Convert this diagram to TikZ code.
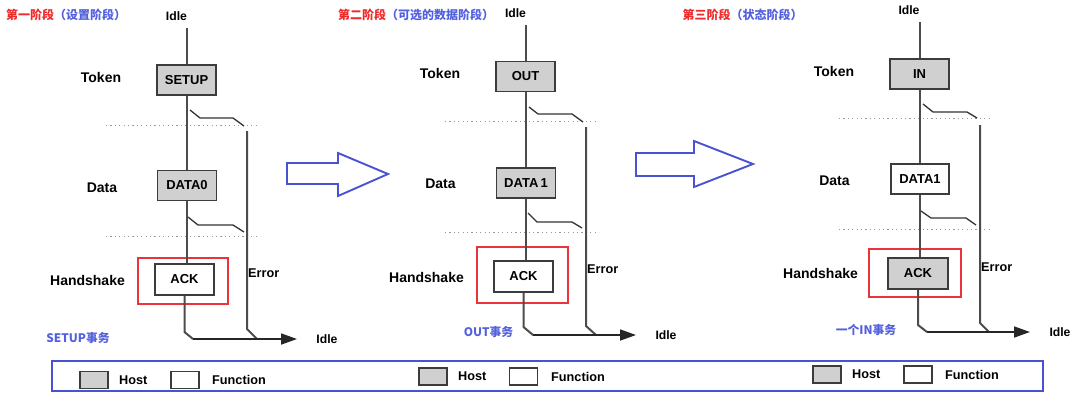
\documentclass[tikz,border=0pt]{standalone}
\usepackage{fontspec}
\setmainfont{Liberation Sans}
\newfontfamily\cjk{Noto Sans CJK SC}
\usetikzlibrary{arrows.meta}
\definecolor{hostgray}{HTML}{D0D0D0}
\definecolor{boxc}{HTML}{3C3C3C}
\definecolor{wirec}{HTML}{4C4C4C}
\definecolor{ttlred}{HTML}{EE2A2A}
\definecolor{ttlblue}{HTML}{5360DD}
\definecolor{legblue}{HTML}{4A52D4}
\definecolor{hlred}{HTML}{E8343A}
\tikzset{
  pbox/.style={draw=boxc, line width=1.8pt, minimum width=59pt, minimum height=30pt, inner sep=0pt,
    font=\bfseries\fontsize{13}{15}\selectfont},
  hostbox/.style={pbox, fill=hostgray},
  funcbox/.style={pbox, fill=white},
  rowlbl/.style={font=\bfseries\fontsize{14}{16}\selectfont, inner sep=0pt},
  idlelbl/.style={font=\bfseries\fontsize{12.2}{14}\selectfont, inner sep=0pt},
  errlbl/.style={font=\bfseries\fontsize{12.7}{14}\selectfont, inner sep=0pt, anchor=west},
  wire/.style={draw=wirec, line width=2pt},
  swline/.style={draw=black!80, line width=1.3pt},
  sepline/.style={draw=gray!80, line width=1pt, dash pattern=on 1.2pt off 3.2pt},
  hlbox/.style={draw=hlred, line width=1.2pt},
  outarrow/.style={draw=black!85, line width=1.7pt, -{Triangle[length=16pt,width=11pt]}},
  bigarrow/.style={draw=legblue, line width=1.9pt, fill=white},
  titlelbl/.style={font=\cjk\bfseries\fontsize{12}{14}\selectfont, inner sep=0pt},
  txlbl/.style={font=\cjk\bfseries\fontsize{11.8}{13}\selectfont, text=ttlblue, inner sep=0pt},
  legkey/.style={draw=boxc, line width=1.5pt, minimum width=28pt, minimum height=17pt, inner sep=0pt},
  legtxt/.style={font=\bfseries\fontsize{12.7}{14}\selectfont, inner sep=0pt, anchor=west},
}
\begin{document}
\begin{tikzpicture}[x=1pt,y=-1pt]
\useasboundingbox (0,0) rectangle (1075,400);

% ================= Diagram 1 =================
\node[titlelbl] (ttl1) at (66,15) {\textcolor{ttlred}{第一阶段}\textcolor{ttlblue}{（设置阶段）}};
\node[idlelbl] (idA1) at (176.5,16) {Idle};
\coordinate (top1) at (186.5,28);
\node[rowlbl] (tok1) at (101,77) {Token};
\node[rowlbl] (dat1) at (102,188) {Data};
\node[rowlbl] (hs1) at (87.5,280) {Handshake};
\node[hostbox] (setup) at (186.5,80) {SETUP};
\node[hostbox] (data0) at (187,185.5) {DATA0};
\node[funcbox, minimum height=31pt] (ack1) at (184.5,279.5) {ACK};
\draw[hlbox] (138,258) rectangle (228,304);
\draw[sepline] (106,125) -- (260,125);
\draw[sepline] (106,236) -- (260,236);
\draw[wire] (top1) -- (setup.north);
\draw[wire] (setup.south) -- (setup.south |- data0.north);
\draw[wire] (setup.south |- data0.south) -- (setup.south |- ack1.north);
% switches
\coordinate (a1) at (190,110); \coordinate (b1) at (200,118);
\coordinate (c1) at (233,118); \coordinate (d1) at (244,126);
\draw[swline] (a1) -- (b1) -- (c1) -- (d1);
\coordinate (a2) at (188,217); \coordinate (b2) at (198,225);
\coordinate (c2) at (233,225); \coordinate (d2) at (244,232);
\draw[swline] (a2) -- (b2) -- (c2) -- (d2);
% error path
\coordinate (et1) at (247,131); \coordinate (eb1) at (247,329); \coordinate (ee1) at (257,339);
\draw[wire] (et1) -- (eb1) -- (ee1);
\node[errlbl] (err1) at (248,273) {Error};
% exit
\coordinate (x1) at (ack1.south); \coordinate (xb1) at (184.5,332); \coordinate (xc1) at (193,339);
\coordinate (xe1) at (297,339);
\draw[wire] (x1) -- (xb1) -- (xc1);
\draw[outarrow] (xc1) -- (xe1);
\node[idlelbl] (idB1) at (327,339) {Idle};
\node[txlbl] (tx1) at (78,338) {SETUP事务};

% big arrow 1
\draw[bigarrow] (287,163) -- (338,163) -- (338,153) -- (388,174) -- (338,196) -- (338,184) -- (287,184) -- cycle;

% ================= Diagram 2 =================
\node[titlelbl] (ttl2) at (416,15) {\textcolor{ttlred}{第二阶段}\textcolor{ttlblue}{（可选的数据阶段）}};
\node[idlelbl] (idA2) at (515.5,13) {Idle};
\coordinate (top2) at (525.5,25);
\node[rowlbl] (tok2) at (440,73) {Token};
\node[rowlbl] (dat2) at (440.5,184) {Data};
\node[rowlbl] (hs2) at (426.5,277) {Handshake};
\node[hostbox] (out) at (525.5,76.5) {OUT};
\node[hostbox] (data1a) at (526,183) {DATA\,1};
\node[funcbox, minimum height=31pt] (ack2) at (523.5,276.5) {ACK};
\draw[hlbox] (477,247) rectangle (568,303);
\draw[sepline] (445,121) -- (599,121);
\draw[sepline] (445,232) -- (599,232);
\draw[wire] (top2) -- (out.north);
\draw[wire] (out.south) -- (out.south |- data1a.north);
\draw[wire] (out.south |- data1a.south) -- (out.south |- ack2.north);
\coordinate (a3) at (529,107); \coordinate (b3) at (538,114);
\coordinate (c3) at (572,114); \coordinate (d3) at (583,122);
\draw[swline] (a3) -- (b3) -- (c3) -- (d3);
\coordinate (a4) at (528,213); \coordinate (b4) at (537,222);
\coordinate (c4) at (572,222); \coordinate (d4) at (582,228);
\draw[swline] (a4) -- (b4) -- (c4) -- (d4);
\coordinate (et2) at (586,127); \coordinate (eb2) at (586,326); \coordinate (ee2) at (596,335);
\draw[wire] (et2) -- (eb2) -- (ee2);
\node[errlbl] (err2) at (587,269) {Error};
\coordinate (x2) at (ack2.south); \coordinate (xb2) at (523.5,327); \coordinate (xc2) at (533,335);
\coordinate (xe2) at (636,335);
\draw[wire] (x2) -- (xb2) -- (xc2);
\draw[outarrow] (xc2) -- (xe2);
\node[idlelbl] (idB2) at (666,335) {Idle};
\node[txlbl] (tx2) at (488.5,332) {OUT事务};

% big arrow 2
\draw[bigarrow] (636,153) -- (694,153) -- (694,141) -- (753,164) -- (694,187) -- (694,176) -- (636,176) -- cycle;

% ================= Diagram 3 =================
\node[titlelbl] (ttl3) at (742.5,15) {\textcolor{ttlred}{第三阶段}\textcolor{ttlblue}{（状态阶段）}};
\node[idlelbl] (idA3) at (909,10) {Idle};
\coordinate (top3) at (919.5,22);
\node[rowlbl] (tok3) at (834,71) {Token};
\node[rowlbl] (dat3) at (834.5,181) {Data};
\node[rowlbl] (hs3) at (820.5,273) {Handshake};
\node[hostbox] (inb) at (919.5,74) {IN};
\node[funcbox, minimum width=58pt] (data1b) at (920,179) {DATA1};
\node[hostbox, minimum width=60pt, minimum height=31pt] (ack3) at (918,273.5) {ACK};
\draw[hlbox] (869,249) rectangle (961,297);
\draw[sepline] (839,118) -- (993,118);
\draw[sepline] (839,229) -- (993,229);
\draw[wire] (top3) -- (inb.north);
\draw[wire] (inb.south) -- (inb.south |- data1b.north);
\draw[wire] (inb.south |- data1b.south) -- (inb.south |- ack3.north);
\coordinate (a5) at (923,104); \coordinate (b5) at (933,112);
\coordinate (c5) at (967,112); \coordinate (d5) at (977,118);
\draw[swline] (a5) -- (b5) -- (c5) -- (d5);
\coordinate (a6) at (921,211); \coordinate (b6) at (931,218);
\coordinate (c6) at (966,218); \coordinate (d6) at (976,225);
\draw[swline] (a6) -- (b6) -- (c6) -- (d6);
\coordinate (et3) at (980,125); \coordinate (eb3) at (980,323); \coordinate (ee3) at (989,332);
\draw[wire] (et3) -- (eb3) -- (ee3);
\node[errlbl] (err3) at (981,267) {Error};
\coordinate (x3) at (ack3.south); \coordinate (xb3) at (918,325); \coordinate (xc3) at (927,332);
\coordinate (xe3) at (1030,332);
\draw[wire] (x3) -- (xb3) -- (xc3);
\draw[outarrow] (xc3) -- (xe3);
\node[idlelbl] (idB3) at (1060,332) {Idle};
\node[txlbl] (tx3) at (866,330) {一个IN事务};

% ================= Legend =================
\draw[draw=legblue, line width=1.5pt] (52,361) rectangle (1043,391);
\node[legkey, fill=hostgray] (lh1) at (94,380) {};
\node[legtxt] (lht1) at (119,380) {Host};
\node[legkey, fill=white] (lf1) at (185,380) {};
\node[legtxt] (lft1) at (212,380) {Function};
\node[legkey, fill=hostgray] (lh2) at (433,376.5) {};
\node[legtxt] (lht2) at (458,376.5) {Host};
\node[legkey, fill=white] (lf2) at (523.5,376.5) {};
\node[legtxt] (lft2) at (551,376.5) {Function};
\node[legkey, fill=hostgray] (lh3) at (827,374.5) {};
\node[legtxt] (lht3) at (852,374.5) {Host};
\node[legkey, fill=white] (lf3) at (918,374.5) {};
\node[legtxt] (lft3) at (945,374.5) {Function};
\end{tikzpicture}
\end{document}
